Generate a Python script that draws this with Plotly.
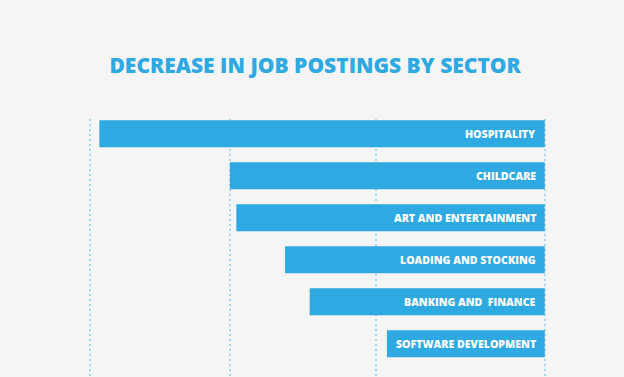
import plotly.graph_objects as go

sectors = ["HOSPITALITY", "CHILDCARE", "ART AND ENTERTAINMENT",
           "LOADING AND STOCKING", "BANKING AND  FINANCE", "SOFTWARE DEVELOPMENT"]
decrease = [-68.6, -48.5, -47.5, -40.0, -36.2, -24.3]
grid_vals = [-70, -48.5, -26, 0]
title_text = "DECREASE IN JOB POSTINGS BY SECTOR"

BLUE = "#2ea9e1"
BG = "#f5f5f5"
y_pos = list(range(len(sectors)))

fig = go.Figure()
fig.add_trace(go.Bar(
    x=decrease, y=y_pos, orientation="h",
    marker=dict(color=BLUE, line=dict(width=0)),
    width=0.64, hoverinfo="skip",
))
for yy, name in zip(y_pos, sectors):
    fig.add_annotation(x=0, y=yy, text=name.replace("  ", "&nbsp; "), xanchor="right", yanchor="middle",
                       xshift=-7, showarrow=False,
                       font=dict(family="Open Sans", size=10.6, color="white", weight=800))

fig.update_layout(
    width=624, height=377,
    margin=dict(l=87, r=76, t=119, b=0),
    paper_bgcolor=BG, plot_bgcolor=BG,
    showlegend=False,
    title=dict(text=title_text, x=0.505, xanchor="center", y=1 - 66 / 377, yanchor="middle",
               font=dict(family="Open Sans", size=21, color=BLUE, weight=800)),
    xaxis=dict(range=[-70.5, 0.5], tickvals=grid_vals, showticklabels=False, ticks="",
               showgrid=True, gridcolor="#a6d8f2", griddash="2px,3px", gridwidth=1.5,
               zeroline=False, showline=False),
    yaxis=dict(range=[5.79, -0.35], showticklabels=False, showgrid=False,
               zeroline=False, showline=False, ticks=""),
)

fig.write_html("out.html", config={"displayModeBar": False},
               post_script="document.body.style.margin='0';document.body.style.background='#f5f5f5';")
